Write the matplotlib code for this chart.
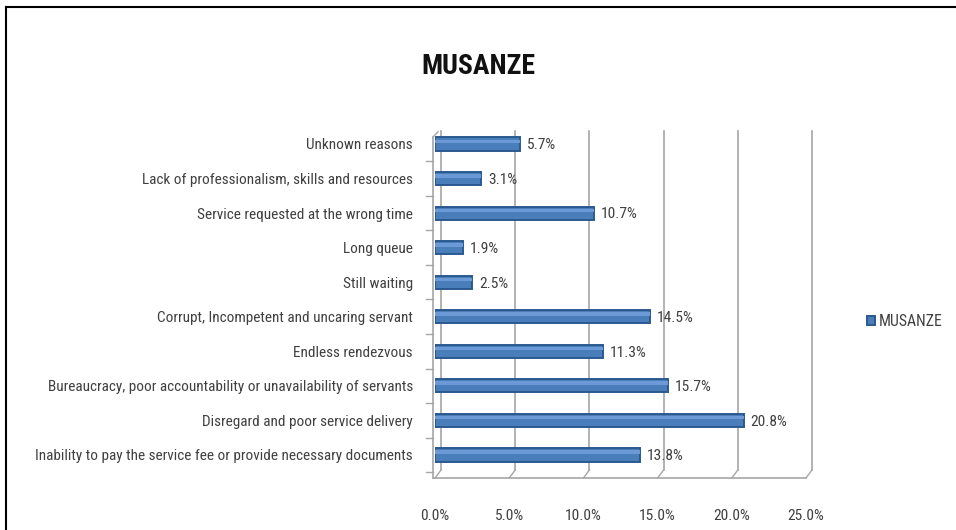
import matplotlib
matplotlib.use("Agg")
import matplotlib.pyplot as plt
import matplotlib.transforms as mtransforms
from matplotlib.lines import Line2D
from matplotlib import font_manager
import numpy as np

# prefer a condensed sans if one is installed
names = {f.name for f in font_manager.fontManager.ttflist}
cond = [n for n in ['Liberation Sans Narrow', 'Roboto Condensed', 'Open Sans Condensed',
                    'DejaVu Sans Condensed', 'Noto Sans Condensed'] if n in names]
base = cond[0] if cond else 'Lato'
plt.rcParams['font.family'] = [base, 'DejaVu Sans']

title = "MUSANZE"
series_name = "MUSANZE"
categories = [
    "Inability to pay the service fee or provide necessary documents",
    "Disregard and poor service delivery",
    "Bureaucracy, poor accountability or unavailability of servants",
    "Endless rendezvous",
    "Corrupt, Incompetent and uncaring servant",
    "Still waiting",
    "Long queue",
    "Service requested at the wrong time",
    "Lack of professionalism, skills and resources",
    "Unknown reasons",
]
values = [13.8, 20.8, 15.7, 11.3, 14.5, 2.5, 1.9, 10.7, 3.1, 5.7]
xticks = [0, 5, 10, 15, 20, 25]
xticklabels = ["0.0%", "5.0%", "10.0%", "15.0%", "20.0%", "25.0%"]

W, H = 956, 530
fig = plt.figure(figsize=(W / 100, H / 100), dpi=100)
renderer = fig.canvas.get_renderer()

def fit_size(s, target_px, start=10.5, weight='normal', maxsize=None):
    t = fig.text(0, 0, s, fontsize=start, fontweight=weight)
    w = t.get_window_extent(renderer).width
    t.remove()
    size = start * target_px / w
    if maxsize:
        size = min(size, maxsize)
    return size

lab_fs = fit_size(categories[0], 385, maxsize=11)
val_fs = fit_size("20.8%", 37, maxsize=12)
leg_fs = fit_size(series_name, 64, maxsize=12)
title_fs = fit_size(title, 114, start=20, weight='bold', maxsize=24)

# front plane of the pseudo-3D plot
x0, x1 = 435, 806
ytop, ybot = 131, 478
ax = fig.add_axes([x0 / W, 1 - ybot / H, (x1 - x0) / W, (ybot - ytop) / H])
ax.set_xlim(0, 25)
ax.set_ylim(-0.666, 9.376)
for s in ax.spines.values():
    s.set_visible(False)
ax.patch.set_alpha(0)

dx, dy = 6, 8  # back-wall offset in pixels
pxx = (x1 - x0) / 25.0
pxy = (ybot - ytop) / (9.376 + 0.666)
back = mtransforms.offset_copy(ax.transData, fig=fig, x=dx, y=dy, units='dots')
grid_c = '#a6a6a6'
ylo, yhi = ax.get_ylim()
ytop_back = yhi - dy / pxy
for xv in xticks:
    ax.add_line(Line2D([xv, xv], [ylo, ytop_back], transform=back, color=grid_c, lw=1.2, clip_on=False))
    ax.add_line(Line2D([xv, xv + dx / pxx], [ylo, ylo + dy / pxy], color=grid_c, lw=1.0, clip_on=False))
ax.add_line(Line2D([-0.15, 25], [ylo, ylo], color=grid_c, lw=1.2, clip_on=False))
ax.add_line(Line2D([-0.15, -0.15], [ylo, ytop_back + 0.05], color=grid_c, lw=1.2, clip_on=False))
ax.add_line(Line2D([-0.15, dx / pxx * 0.5], [ytop_back + 0.05, yhi - 0.02], color=grid_c, lw=1.0, clip_on=False))

for b in np.arange(len(categories) + 1) - 0.5:
    if ylo < b < yhi:
        ax.add_line(Line2D([-0.6, -0.15], [b, b], color=grid_c, lw=1.0, clip_on=False))

y = np.arange(len(categories))
bars = ax.barh(y, values, height=0.38, color='#4a7ebb', edgecolor='#2b5a90', linewidth=1.4,
               label=series_name, zorder=3)
ax.barh(y + 0.08, values, height=0.1, color='#6b9ad6', linewidth=0, zorder=4)

for yi, v in zip(y, values):
    ax.annotate(f"{v:.1f}%", (v, yi), xytext=(5, -1), textcoords='offset points',
                va='center', ha='left', fontsize=val_fs, color='#404040')

ax.set_yticks(y)
ax.set_yticklabels(categories, fontsize=lab_fs, color='#404040')
ax.tick_params(axis='y', length=0, pad=16)
ax.set_xticks(xticks)
ax.set_xticklabels(xticklabels, fontsize=val_fs, color='#404040')
ax.tick_params(axis='x', length=0, pad=22)

fig.text(478 / W, 1 - 66 / H, title, ha='center', va='center', fontsize=title_fs,
         fontweight='bold', color='#111111')

fig.legend(handles=[bars], labels=[series_name], loc='center left',
           bbox_to_anchor=(853 / W, 1 - 322 / H), frameon=False, fontsize=leg_fs,
           handlelength=0.5, handleheight=0.5, handletextpad=0.25, labelcolor='#404040')

fig.add_artist(Line2D([6 / W, 6 / W], [0, 1 - 7 / H], transform=fig.transFigure, color='black', lw=1.5))
fig.add_artist(Line2D([6 / W, 1], [1 - 7 / H, 1 - 7 / H], transform=fig.transFigure, color='black', lw=1.5))

fig.savefig("out.png", dpi=100)
